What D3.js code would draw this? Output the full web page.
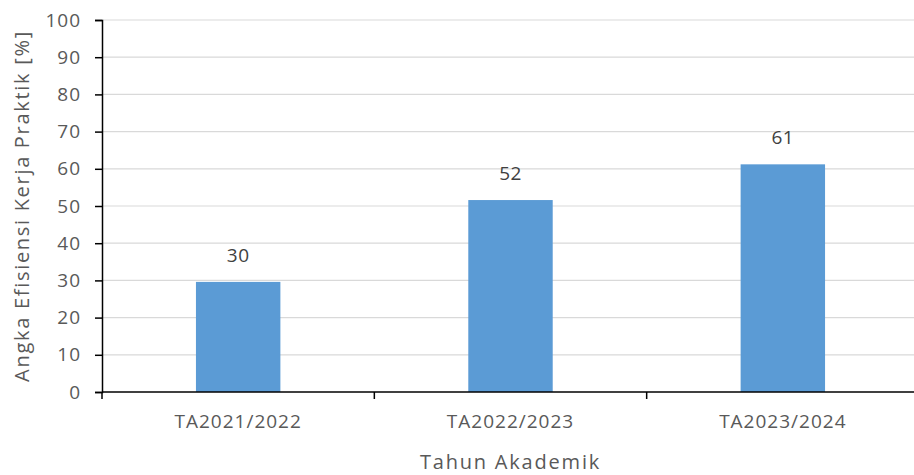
<!DOCTYPE html>
<html>
<head>
<meta charset="utf-8">
<script src="https://cdn.jsdelivr.net/npm/d3@7"></script>
<style>
  body { margin: 0; background: #fff; }
  svg { display: block; }
  .tick text { fill: #595959; }
</style>
</head>
<body>
<div id="chart"></div>
<script>
const categories = ["TA2021/2022", "TA2022/2023", "TA2023/2024"];
const values = [29.6, 51.6, 61.2];
const yTicks = [0, 10, 20, 30, 40, 50, 60, 70, 80, 90, 100];

const width = 914, height = 475;
const margin = {top: 20, right: -5, bottom: 83, left: 102};
const fontFamily = "'Open Sans', sans-serif";

const svg = d3.select("#chart")
    .append("svg")
    .attr("width", width)
    .attr("height", height);

const x = d3.scaleBand()
    .domain(categories)
    .range([margin.left, width - margin.right])
    .padding(0);

// narrower bars inside the same bands
const xBar = d3.scaleBand()
    .domain(categories)
    .range([margin.left, width - margin.right])
    .paddingInner(0.69)
    .paddingOuter(0.345);

const y = d3.scaleLinear()
    .domain([0, 100])
    .range([height - margin.bottom, margin.top]);

// gridlines
svg.append("g")
    .selectAll("line")
    .data(yTicks.slice(1))
    .join("line")
    .attr("x1", margin.left)
    .attr("x2", width)
    .attr("y1", d => y(d))
    .attr("y2", d => y(d))
    .attr("stroke", "#d9d9d9")
    .attr("stroke-width", 1.2);

// bars
svg.append("g")
    .attr("fill", "#5b9bd5")
    .selectAll("rect")
    .data(values)
    .join("rect")
    .attr("x", (d, i) => xBar(categories[i]))
    .attr("y", d => y(d))
    .attr("width", xBar.bandwidth())
    .attr("height", d => y(0) - y(d));

// value labels
const fmt = d3.format(".0f");
svg.append("g")
    .attr("font-family", fontFamily)
    .attr("font-size", 19)
    .attr("letter-spacing", 0.5)
    .attr("fill", "#404040")
    .attr("text-anchor", "middle")
    .selectAll("text")
    .data(values)
    .join("text")
    .attr("x", (d, i) => x(categories[i]) + x.bandwidth() / 2)
    .attr("y", d => y(d) - 20)
    .text(d => fmt(d));

// y axis
svg.append("g")
    .attr("transform", `translate(${margin.left},0)`)
    .call(d3.axisLeft(y).tickValues(yTicks).tickSize(7).tickPadding(14))
    .call(g => g.selectAll(".domain, .tick line").attr("stroke", "#000").attr("stroke-width", 1.5))
    .call(g => g.selectAll(".tick text")
        .attr("font-family", fontFamily)
        .attr("font-size", 19)
        .attr("letter-spacing", 1));

// x axis: ticks at band boundaries, labels at band centres
const boundaries = categories.map(c => x(c)).concat([x(categories[categories.length - 1]) + x.bandwidth()]);
const xAxisG = svg.append("g")
    .attr("transform", `translate(0,${y(0)})`);

xAxisG.append("line")
    .attr("x1", margin.left)
    .attr("x2", width)
    .attr("stroke", "#000")
    .attr("stroke-width", 1.5);

xAxisG.selectAll(".xtick")
    .data(boundaries)
    .join("line")
    .attr("class", "xtick")
    .attr("x1", d => d)
    .attr("x2", d => d)
    .attr("y1", 0)
    .attr("y2", 7)
    .attr("stroke", "#000")
    .attr("stroke-width", 1.5);

xAxisG.selectAll(".xlabel")
    .data(categories)
    .join("text")
    .attr("class", "xlabel")
    .attr("x", d => x(d) + x.bandwidth() / 2)
    .attr("y", 36)
    .attr("text-anchor", "middle")
    .attr("font-family", fontFamily)
    .attr("font-size", 19)
    .attr("letter-spacing", 1)
    .attr("fill", "#595959")
    .text(d => d);

// axis titles
svg.append("text")
    .attr("x", (margin.left + width - margin.right) / 2)
    .attr("y", 469)
    .attr("text-anchor", "middle")
    .attr("font-family", fontFamily)
    .attr("font-size", 20)
    .attr("letter-spacing", 1.8)
    .attr("fill", "#595959")
    .text("Tahun Akademik");

svg.append("text")
    .attr("transform", `translate(29,${(y(0) + y(100)) / 2}) rotate(-90)`)
    .attr("text-anchor", "middle")
    .attr("font-family", fontFamily)
    .attr("font-size", 20)
    .attr("letter-spacing", 1.7)
    .attr("fill", "#595959")
    .text("Angka Efisiensi Kerja Praktik [%]");
</script>
</body>
</html>
